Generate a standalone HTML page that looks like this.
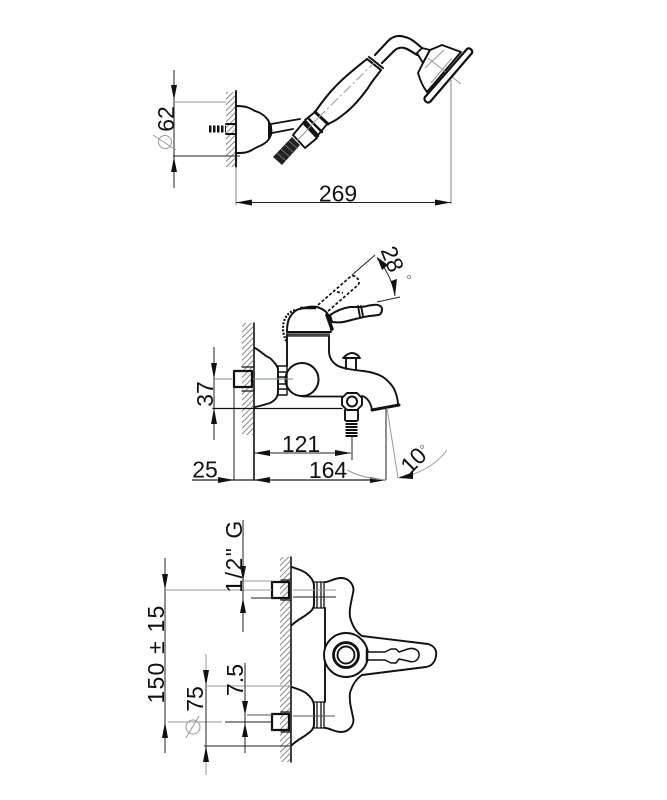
<!DOCTYPE html>
<html><head><meta charset="utf-8"><style>
html,body{margin:0;padding:0;background:#fff}
svg{display:block;filter:blur(.3px)}
text{font-family:"Liberation Sans",sans-serif;fill:#111;font-size:23px;text-anchor:middle}
.o{fill:none;stroke:#111;stroke-width:1.900;stroke-linejoin:round;stroke-linecap:round}
.w{fill:#fff;stroke:#111;stroke-width:1.900;stroke-linejoin:round}
.d{fill:none;stroke:#222;stroke-width:1}
.g{fill:none;stroke:#999;stroke-width:1}
.b{fill:#111;stroke:none}
</style></head><body>
<svg width="667" height="800" viewBox="0 0 667 800" xmlns="http://www.w3.org/2000/svg">
<defs><pattern id="h" width="4" height="4" patternUnits="userSpaceOnUse" patternTransform="rotate(-45)"><rect width="4" height="4" fill="#fff"/><line x1="0" y1="2" x2="4" y2="2" stroke="#888" stroke-width="1"/></pattern></defs>

<!-- TOP VIEW -->
<rect x="226" y="92" width="10" height="75" fill="url(#h)"/>
<path class="o" d="M236 91V167"/>
<path class="d" d="M174 70V188"/>
<path class="b" d="M174 100l-3-15h6zM174 157l-3 15h6z"/>
<path class="g" d="M175 102H226"/>
<path class="d" d="M173 156H240"/>
<text transform="translate(174,119) rotate(-90)">62</text>
<circle class="g" cx="165" cy="142" r="6.500"/><path class="g" d="M153 135L176 150"/>
<path class="o" d="M237 106C246 106 250 108 255 111C262 113 267 117 270 124C272 130 272 134 269 139C265 145 258 146 252 150C247 153 243 153 237 153"/>
<path class="b" d="M268 118L272 126V135L268 140z"/>
<path d="M209 129H226" stroke="#111" stroke-width="7" stroke-dasharray="2.500 1.500" fill="none"/>
<path class="o" d="M226 124H236M226 134H236"/>
<!-- arm -->
<path class="o" d="M271 124L300 119M272 133L293 129"/>
<!-- hose -->
<path d="M273 157L292 137L300 145L282 165z" fill="#222"/>
<path d="M277 153L286 161M281 149L290 157M285 145L294 153M289 141L298 149" stroke="#888" stroke-width=".8"/>
<!-- nut + joint -->
<path class="w" d="M305 120L315 112L328 123L318 135z"/>
<path class="w" d="M293 135L303 123L317 138L305 148z"/>
<path class="o" style="stroke-width:2.400" d="M304 122L318 136M308 118L322 132"/>
<path class="g" d="M296 142L318 118"/>
<!-- handle -->
<path class="w" style="stroke-width:2" d="M315 112C320 105 326 96 335 87C345 76 357 67 367 59L381 70C376 77 372 81 368 88C360 99 352 108 344 114C338 119 333 122 328 124z"/>
<path class="o" style="stroke-width:3" d="M315 112L328 124"/>
<path class="o" style="stroke-width:2" d="M367 59L381 70M369 57L383 68"/>
<path class="g" d="M318 118L374 63" stroke-dasharray="10 3 2 3"/>
<!-- neck -->
<path class="o" style="stroke-width:2.100" d="M375 55L388 41C393 36 399 35 405 37C410 38 414 41 422 48M382 63L394 51C398 47 403 47 407 49C411 51 414 53 417 55"/>
<!-- head -->
<path class="w" d="M417 53L422 48L430 50L423 63z"/>
<path class="w" d="M423 63L430 50L442 45L461 52L427 92C423 87 420 80 418 73z"/>
<path class="g" d="M425 68L444 50M431 83L452 58M428 58L461 84"/>
<path class="w" style="stroke-width:2.200" d="M425 97L467 49C469 47 473 50 472 53L430 102C427 104 423 100 425 97z"/>
<!-- 269 dim -->
<path class="g" style="stroke-width:1.200" d="M451 80V204M236 167V205"/>
<path class="d" d="M236 202.500H451"/>
<path class="b" d="M236 202.500l16-3v6zM451 202.500l-16-3v6z"/>
<text x="338" y="201.500">269</text>

<!-- MIDDLE VIEW -->
<rect x="242" y="323" width="11" height="112" fill="url(#h)"/>
<path class="o" style="stroke-width:1.600" d="M254 323V480"/>
<path class="o" d="M255 348C262 352 266 357 270 358C274 362 278 366 278 370V392C278 398 274 401 270 403C264 405 260 406 255 407"/>
<path class="o" style="stroke-width:1.400" d="M278 366H287V395H278zM278 372H287M278 377H287M278 384H287M278 389H287"/>
<circle class="o" style="stroke-width:2" cx="302" cy="379.500" r="16.500"/>
<path class="o" d="M287 334V366"/>
<path class="o" style="stroke-width:2" d="M287 332C287 325 288 320 290 317C293 312 297 309 300 309C306 307 312 306 317 307C323 309 327 312 328 315C330 320 331 325 331 330"/>
<path d="M300 308H316" stroke="#111" stroke-width="2.500"/>
<path d="M288 335H330" stroke="#444" stroke-width="3.500"/>
<path class="o" d="M287 332H331"/>
<path class="o" d="M329 337V351C329 358 333 363 338 366C345 369 354 370 363 371C372 372 378 374 383 377C390 382 394 388 395 391C397 396 398 400 398 405"/>
<path class="o" style="stroke-width:3" d="M372 410L399 405"/>
<path class="o" d="M362 396C367 397 371 403 372 410"/>
<path class="o" style="stroke-width:1.800" d="M303 396.500H342"/>
<!-- knob -->
<path class="o" d="M343 358C346 355 349 353 352 353C355 353 358 355 360 358zM346 358V369M356 358V369"/>
<!-- spout connector -->
<path class="w" d="M342 398L347 393H357L362 398V405L357 410H347L342 405z"/>
<circle class="o" cx="352" cy="401.500" r="5"/>
<path class="o" d="M345 410V420M358 410V420"/>
<path d="M351.500 420V437" stroke="#111" stroke-width="12" stroke-dasharray="2 1"/>
<path class="d" d="M352 437V460"/>
<!-- lever -->
<path class="w" style="stroke-width:2" d="M330 315C336 311 343 308 350 307C354 307 357 307 360 307C365 307 369 305 373 305C378 304 382 306 382 309C382 313 380 315 378 315C372 316 366 316 360 318C354 319 349 321 343 322C339 323 335 322 332 322z"/>
<path class="o" d="M358 306L360 317M361 306L363 316"/>
<path class="o" style="stroke-width:3.500" d="M327 315L332 329"/>
<!-- dashed -->
<path class="o" style="stroke-width:1.700;stroke-linecap:butt" d="M318 305L350 277C353 275 356 276 357 278C359 280 360 283 358 285L327 312M337 292L343 293" stroke-dasharray="3 2"/>
<path class="o" style="stroke-width:2.200;stroke-linecap:butt" d="M295 310C286 313 283 321 283 328C283 334 285 338 287 343" stroke-dasharray="2 1.500"/>
<!-- 28 dim -->
<path class="d" d="M352 275L375 255M377 302L400 297"/>
<path class="d" d="M377 258C387 270 393 283 395 296"/>
<path class="b" d="M377 257L388 265L382 270zM395 296L391 281L397 279z"/>
<text transform="translate(385,262) rotate(68)">28</text>
<circle cx="409" cy="277" r="1.500" fill="none" stroke="#777" stroke-width=".8"/>
<!-- center and cap -->
<path class="g" style="stroke:#7a8a84" d="M215 379H232M253 379H293"/>
<rect class="o" style="stroke-width:2.200" x="234" y="371" width="18" height="16"/>
<path class="o" style="stroke-width:1.200" d="M242 367H254M242 391H254"/>
<!-- 37 -->
<path class="d" d="M214 347V440"/>
<path class="b" d="M214 379l-3-16h6zM214 408l-3 16h6z"/>
<path class="o" style="stroke-width:1.300" d="M213 408.500H342"/>
<text transform="translate(213,394) rotate(-90)">37</text>
<!-- 121 164 25 -->
<path class="d" d="M254 453H351"/>
<path class="b" d="M254 453l16-3v6zM351 453l-16-3v6z"/>
<text x="301" y="452">121</text>
<path class="d" style="stroke-width:1.200" d="M192 480H386"/>
<path class="d" d="M234 387V480M386 407V480"/>
<path class="b" d="M234 480l-16-3v6zM254 480l16-3v6zM386 480l-16-3v6z"/>
<text x="328" y="478">164</text>
<text x="205" y="477.500">25</text>
<path class="g" d="M387 408L398 478"/>
<path class="g" d="M347 470C358 476 372 479 386 480M400 477C418 475 436 465 447 450"/>
<path class="b" d="M398 478L413 472L413 479z"/>
<text transform="translate(419,466) rotate(-45)">10</text>
<circle cx="422" cy="447" r="1.500" fill="none" stroke="#777" stroke-width=".8"/>

<!-- BOTTOM VIEW -->
<rect x="280" y="557" width="10" height="205" fill="url(#h)"/>
<path class="o" style="stroke-width:1.600" d="M291 557V762"/>
<path class="o" d="M292 567C297 569 302 570 306 573C311 577 314 581 314 586V604C314 610 309 613 303 617C298 620 295 622 292 625"/>
<path class="o" d="M292 687C297 689 302 690 306 693C311 697 314 701 314 706V724C314 730 309 733 303 737C298 740 295 742 292 745"/>
<path class="o" style="stroke-width:1.300" d="M314 582H324V608H314zM317 582V608M321 582V608M314 702H324V728H314zM317 702V728M321 702V728"/>
<path class="o" d="M325 608V702"/>
<!-- body -->
<path class="o" d="M325 582C330 582 334 578 341 578C349 578 355 585 353 593C351 603 349 610 350 617C352 625 356 632 362 636L428 644C435 646 437 651 436 656C435 662 432 666 426 667L362 675C356 679 352 686 350 693C349 700 351 708 353 717C355 725 349 732 341 732C334 732 330 728 325 728"/>
<circle class="w" cx="346" cy="655" r="22"/>
<circle class="w" style="stroke-width:2.800" cx="346" cy="655" r="12.500"/>
<circle class="o" cx="346" cy="655" r="8.500"/>
<!-- lever -->
<path class="w" style="stroke-width:1.500" d="M367 652H385L391 649H396L399 652L408 649C415 647 420 651 419 656C418 661 413 663 408 661L399 659L396 663H391L385 660H367z"/>
<path class="o" style="stroke-width:2.500" d="M367 650V661"/>
<!-- caps -->
<rect class="o" style="stroke-width:2.200" x="272" y="582" width="17" height="16"/>
<rect class="o" style="stroke-width:2.200" x="272" y="714" width="17" height="16"/>
<path class="o" style="stroke-width:1.200" d="M281 580H290M281 600H290M281 712H290M281 732H290"/>
<path class="d" d="M250 590H272M293 597H336M251 598H271"/>
<path class="g" d="M240 581H271M293 590H336"/>
<path class="d" style="stroke:#555" d="M247 715H272M293 716H335"/>
<path class="d" d="M225 722H272"/>
<!-- 150 dim -->
<path class="d" d="M165 558V753"/>
<path class="b" d="M165 590l-3-16h6zM165 722l-3 16h6z"/>
<path class="g" d="M165 590H272"/>
<path class="g" d="M168 722H222"/>
<text transform="translate(164,654) rotate(-90)" style="letter-spacing:1.200px">150 ± 15</text>
<!-- 75 dim -->
<path class="g" d="M206 654V670M206 762V775"/>
<path class="d" d="M206 670V762"/>
<path class="b" d="M206 686l-3-16h6zM206 746l-3 16h6z"/>
<path class="g" d="M206 686H291"/>
<path class="d" d="M204 746H292"/>
<text transform="translate(203,699) rotate(-90)">75</text>
<circle class="g" cx="193" cy="727" r="7"/><path class="g" d="M186 738L199 716"/>
<!-- 7.5 dim -->
<path class="d" d="M245 663V753"/>
<path class="b" d="M245 715l-3-14h6zM245 723l-3 14h6z"/>
<text transform="translate(243,680) rotate(-90)">7.5</text>
<!-- 1/2 G -->
<path class="d" d="M243 520V632"/>
<path class="b" d="M243 581l-3-15h6zM243 598l-3 15h6z"/>
<text transform="translate(242,556) rotate(-90)" style="letter-spacing:1.500px">1/2" G</text>
</svg>
</body></html>
